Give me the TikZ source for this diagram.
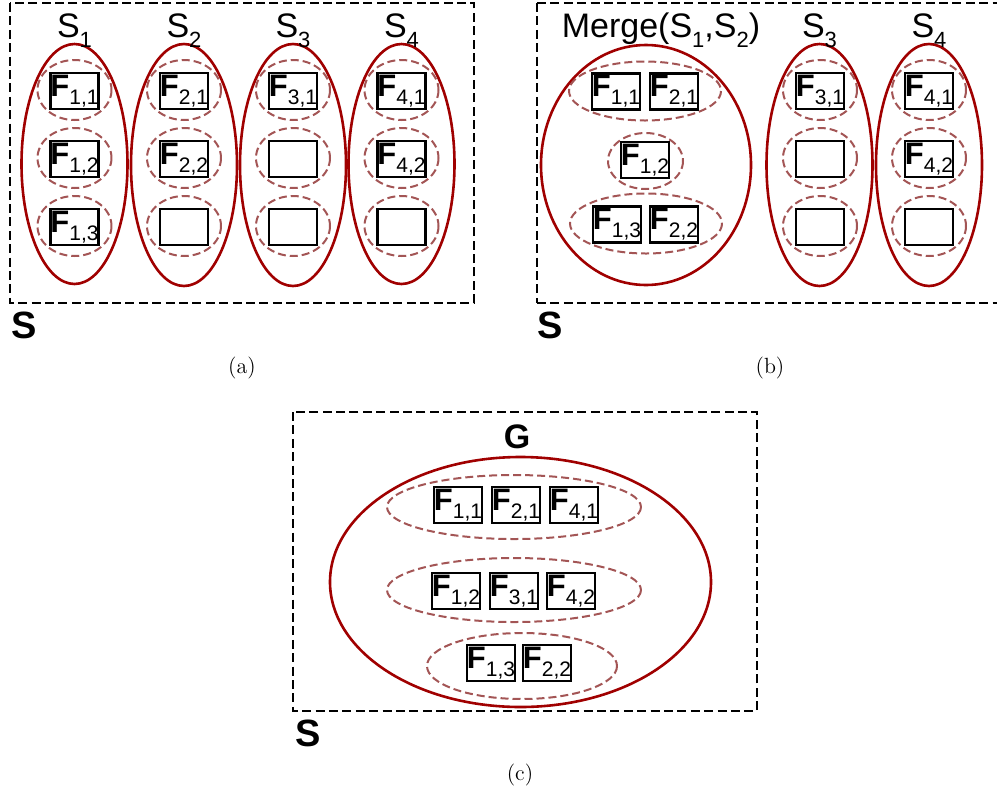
\documentclass[tikz,border=0pt]{standalone}
\usepackage{fontspec}
\newfontfamily\arial{Liberation Sans}
\definecolor{setred}{HTML}{A00000}
\definecolor{subred}{HTML}{A35555}
% bold F with a plain index
\newcommand{\feat}[1]{{\fontsize{15.5}{15.5}\selectfont\bfseries F}\raisebox{-4pt}{\fontsize{10.5}{10.5}\selectfont #1}}
% set name with a lowered index
\newcommand{\setidx}[1]{\raisebox{-5pt}{\fontsize{11}{11}\selectfont #1}}

\begin{document}
\begin{tikzpicture}[x=0.5pt, y=-0.5pt,
    frame/.style={line width=1.4pt, dash pattern=on 4.5pt off 2.2pt},
    grp/.style={draw=setred, line width=1.3pt},
    sub/.style={draw=subred, line width=1pt, dash pattern=on 4pt off 2pt},
    fbox/.style={draw, line width=1.2pt, minimum width=24pt, minimum height=18pt, inner sep=0pt, font=\arial},
    setlab/.style={anchor=base, font=\arial\fontsize{17}{17}\selectfont, inner sep=0pt},
    biglab/.style={font=\arial\bfseries\fontsize{19}{19}\selectfont, inner sep=0pt},
    caption/.style={font=\fontsize{11}{13}\selectfont, inner sep=0pt}]
  \useasboundingbox (0,0) rectangle (997,794);

  % ---------------- (a) ----------------
  \draw[frame] (10,3) rectangle (474,303);
  \node[biglab] (sa) at (24,325) {S};
  \node[caption] (capa) at (242,368) {(a)};
  % sets
  \draw[grp] (74.5,164) ellipse [x radius=53, y radius=120];
  \draw[grp] (184,165) ellipse [x radius=53, y radius=121];
  \draw[grp] (293,165) ellipse [x radius=53, y radius=121];
  \draw[grp] (401.5,164) ellipse [x radius=53, y radius=120];
  \node[setlab] (s1) at (74.5,37) {S\setidx{1}};
  \node[setlab] (s2) at (184,37) {S\setidx{2}};
  \node[setlab] (s3) at (293,37) {S\setidx{3}};
  \node[setlab] (s4) at (401.5,37) {S\setidx{4}};
  % dashed rings round each slot
  \draw[sub] (74.5,90) ellipse [x radius=37, y radius=30];
  \draw[sub] (74.5,158) ellipse [x radius=37, y radius=30];
  \draw[sub] (74.5,226) ellipse [x radius=37, y radius=30];
  \draw[sub] (184,90) ellipse [x radius=37, y radius=30];
  \draw[sub] (184,158) ellipse [x radius=37, y radius=30];
  \draw[sub] (184,226) ellipse [x radius=37, y radius=30];
  \draw[sub] (293,90) ellipse [x radius=37, y radius=30];
  \draw[sub] (293,158) ellipse [x radius=37, y radius=30];
  \draw[sub] (293,226) ellipse [x radius=37, y radius=30];
  \draw[sub] (401.5,90) ellipse [x radius=37, y radius=30];
  \draw[sub] (401.5,158) ellipse [x radius=37, y radius=30];
  \draw[sub] (401.5,226) ellipse [x radius=37, y radius=30];
  % slots
  \node[fbox] (a11) at (74.5,91) {\feat{1,1}};
  \node[fbox] (a12) at (74.5,159) {\feat{1,2}};
  \node[fbox] (a13) at (74.5,227) {\feat{1,3}};
  \node[fbox] (a21) at (184,91) {\feat{2,1}};
  \node[fbox] (a22) at (184,159) {\feat{2,2}};
  \node[fbox] (a23) at (184,227) {};
  \node[fbox] (a31) at (293,91) {\feat{3,1}};
  \node[fbox] (a32) at (293,159) {};
  \node[fbox] (a33) at (293,227) {};
  \node[fbox] (a41) at (401.5,91) {\feat{4,1}};
  \node[fbox] (a42) at (401.5,159) {\feat{4,2}};
  \node[fbox] (a43) at (401.5,227) {};

  % ---------------- (b) ----------------
  \draw[frame] (537,3) -- (1003,3);
  \draw[frame] (537,303) -- (1003,303);
  \draw[frame] (537,3) -- (537,303);
  \node[biglab] (sb) at (550,325) {S};
  \node[caption] (capb) at (770,368) {(b)};
  % merged set
  \draw[grp] (646,165) ellipse [x radius=105, y radius=120];
  \node[setlab] (mrg) at (661,37) {Merge(S\setidx{1},S\setidx{2})};
  \draw[sub] (645,91) ellipse [x radius=76, y radius=29.5];
  \draw[sub] (645.5,161) ellipse [x radius=37.5, y radius=28];
  \draw[sub] (646,223.5) ellipse [x radius=76, y radius=30];
  \node[fbox] (b11) at (616,91.5) {\feat{1,1}};
  \node[fbox] (b21) at (674,91.5) {\feat{2,1}};
  \node[fbox] (b12) at (645,160) {\feat{1,2}};
  \node[fbox] (b13) at (617,224.5) {\feat{1,3}};
  \node[fbox] (b22) at (674,224.5) {\feat{2,2}};
  % S3 and S4
  \draw[grp] (819.5,165) ellipse [x radius=53, y radius=121];
  \draw[grp] (929,165) ellipse [x radius=53, y radius=121];
  \node[setlab] (t3) at (819.5,37) {S\setidx{3}};
  \node[setlab] (t4) at (929,37) {S\setidx{4}};
  \draw[sub] (820,90) ellipse [x radius=37, y radius=30];
  \draw[sub] (820,158) ellipse [x radius=37, y radius=30];
  \draw[sub] (820,226) ellipse [x radius=37, y radius=30];
  \draw[sub] (929,90) ellipse [x radius=37, y radius=30];
  \draw[sub] (929,158) ellipse [x radius=37, y radius=30];
  \draw[sub] (929,226) ellipse [x radius=37, y radius=30];
  \node[fbox] (b31) at (820,91) {\feat{3,1}};
  \node[fbox] (b32) at (820,159) {};
  \node[fbox] (b33) at (820,227) {};
  \node[fbox] (b41) at (929,91) {\feat{4,1}};
  \node[fbox] (b42) at (929,159) {\feat{4,2}};
  \node[fbox] (b43) at (929,227) {};

  % ---------------- (c) ----------------
  \draw[frame] (293,412) rectangle (757,711);
  \node[biglab] (sc) at (308,733) {S};
  \node[biglab, font=\arial\bfseries\fontsize{17}{17}\selectfont] (g) at (517,437) {G};
  \node[caption] (capc) at (520,775) {(c)};
  % global set
  \draw[grp] (520.5,582) ellipse [x radius=190.5, y radius=125];
  \draw[sub] (514,507) ellipse [x radius=127, y radius=32];
  \draw[sub] (514,590) ellipse [x radius=127, y radius=32];
  \draw[sub] (522,666) ellipse [x radius=95, y radius=33];
  \node[fbox] (c11) at (458,505) {\feat{1,1}};
  \node[fbox] (c21) at (516,505) {\feat{2,1}};
  \node[fbox] (c41) at (574,505) {\feat{4,1}};
  \node[fbox] (c12) at (456,591) {\feat{1,2}};
  \node[fbox] (c31) at (514,591) {\feat{3,1}};
  \node[fbox] (c42) at (571,591) {\feat{4,2}};
  \node[fbox] (c13) at (491,663) {\feat{1,3}};
  \node[fbox] (c22) at (547,663) {\feat{2,2}};
\end{tikzpicture}
\end{document}
